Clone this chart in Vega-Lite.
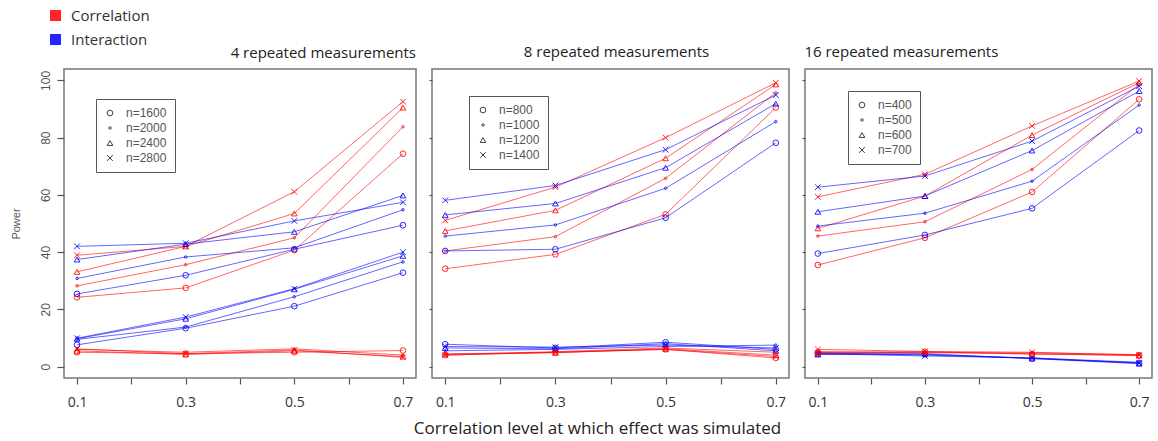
{
"$schema": "https://vega.github.io/schema/vega-lite/v6.json",
"background": "white",
"padding": {"left": 9, "top": 7, "right": 0, "bottom": 0},
"autosize": {"type": "pad"},
"bounds": "flush",
"spacing": 16,
"datasets": {"d": [
{"p":4,"t":"Correlation","s":"a","n":"n=1600","x":0.1,"y":24.2},{"p":4,"t":"Correlation","s":"a","n":"n=1600","x":0.3,"y":27.5},{"p":4,"t":"Correlation","s":"a","n":"n=1600","x":0.5,"y":40.7},{"p":4,"t":"Correlation","s":"a","n":"n=1600","x":0.7,"y":74.4},
{"p":4,"t":"Correlation","s":"a","n":"n=2000","x":0.1,"y":28.2},{"p":4,"t":"Correlation","s":"a","n":"n=2000","x":0.3,"y":35.6},{"p":4,"t":"Correlation","s":"a","n":"n=2000","x":0.5,"y":45.0},{"p":4,"t":"Correlation","s":"a","n":"n=2000","x":0.7,"y":83.8},
{"p":4,"t":"Correlation","s":"a","n":"n=2400","x":0.1,"y":33.1},{"p":4,"t":"Correlation","s":"a","n":"n=2400","x":0.3,"y":42.0},{"p":4,"t":"Correlation","s":"a","n":"n=2400","x":0.5,"y":53.5},{"p":4,"t":"Correlation","s":"a","n":"n=2400","x":0.7,"y":90.5},
{"p":4,"t":"Correlation","s":"a","n":"n=2800","x":0.1,"y":38.9},{"p":4,"t":"Correlation","s":"a","n":"n=2800","x":0.3,"y":42.0},{"p":4,"t":"Correlation","s":"a","n":"n=2800","x":0.5,"y":61.1},{"p":4,"t":"Correlation","s":"a","n":"n=2800","x":0.7,"y":92.6},
{"p":4,"t":"Interaction","s":"a","n":"n=1600","x":0.1,"y":25.4},{"p":4,"t":"Interaction","s":"a","n":"n=1600","x":0.3,"y":31.9},{"p":4,"t":"Interaction","s":"a","n":"n=1600","x":0.5,"y":41.0},{"p":4,"t":"Interaction","s":"a","n":"n=1600","x":0.7,"y":49.4},
{"p":4,"t":"Interaction","s":"a","n":"n=2000","x":0.1,"y":30.8},{"p":4,"t":"Interaction","s":"a","n":"n=2000","x":0.3,"y":38.3},{"p":4,"t":"Interaction","s":"a","n":"n=2000","x":0.5,"y":41.5},{"p":4,"t":"Interaction","s":"a","n":"n=2000","x":0.7,"y":54.8},
{"p":4,"t":"Interaction","s":"a","n":"n=2400","x":0.1,"y":37.4},{"p":4,"t":"Interaction","s":"a","n":"n=2400","x":0.3,"y":42.8},{"p":4,"t":"Interaction","s":"a","n":"n=2400","x":0.5,"y":47.1},{"p":4,"t":"Interaction","s":"a","n":"n=2400","x":0.7,"y":59.8},
{"p":4,"t":"Interaction","s":"a","n":"n=2800","x":0.1,"y":42.0},{"p":4,"t":"Interaction","s":"a","n":"n=2800","x":0.3,"y":43.1},{"p":4,"t":"Interaction","s":"a","n":"n=2800","x":0.5,"y":50.9},{"p":4,"t":"Interaction","s":"a","n":"n=2800","x":0.7,"y":57.4},
{"p":4,"t":"Interaction","s":"b","n":"n=1600","x":0.1,"y":7.6},{"p":4,"t":"Interaction","s":"b","n":"n=1600","x":0.3,"y":13.4},{"p":4,"t":"Interaction","s":"b","n":"n=1600","x":0.5,"y":21.1},{"p":4,"t":"Interaction","s":"b","n":"n=1600","x":0.7,"y":32.8},
{"p":4,"t":"Interaction","s":"b","n":"n=2000","x":0.1,"y":9.5},{"p":4,"t":"Interaction","s":"b","n":"n=2000","x":0.3,"y":13.8},{"p":4,"t":"Interaction","s":"b","n":"n=2000","x":0.5,"y":24.4},{"p":4,"t":"Interaction","s":"b","n":"n=2000","x":0.7,"y":36.6},
{"p":4,"t":"Interaction","s":"b","n":"n=2400","x":0.1,"y":9.7},{"p":4,"t":"Interaction","s":"b","n":"n=2400","x":0.3,"y":16.7},{"p":4,"t":"Interaction","s":"b","n":"n=2400","x":0.5,"y":27.0},{"p":4,"t":"Interaction","s":"b","n":"n=2400","x":0.7,"y":38.7},
{"p":4,"t":"Interaction","s":"b","n":"n=2800","x":0.1,"y":9.9},{"p":4,"t":"Interaction","s":"b","n":"n=2800","x":0.3,"y":17.3},{"p":4,"t":"Interaction","s":"b","n":"n=2800","x":0.5,"y":27.2},{"p":4,"t":"Interaction","s":"b","n":"n=2800","x":0.7,"y":40.0},
{"p":4,"t":"Correlation","s":"b","n":"n=1600","x":0.1,"y":5.0},{"p":4,"t":"Correlation","s":"b","n":"n=1600","x":0.3,"y":4.5},{"p":4,"t":"Correlation","s":"b","n":"n=1600","x":0.5,"y":5.0},{"p":4,"t":"Correlation","s":"b","n":"n=1600","x":0.7,"y":5.6},
{"p":4,"t":"Correlation","s":"b","n":"n=2000","x":0.1,"y":6.0},{"p":4,"t":"Correlation","s":"b","n":"n=2000","x":0.3,"y":5.0},{"p":4,"t":"Correlation","s":"b","n":"n=2000","x":0.5,"y":6.2},{"p":4,"t":"Correlation","s":"b","n":"n=2000","x":0.7,"y":4.0},
{"p":4,"t":"Correlation","s":"b","n":"n=2400","x":0.1,"y":5.5},{"p":4,"t":"Correlation","s":"b","n":"n=2400","x":0.3,"y":4.2},{"p":4,"t":"Correlation","s":"b","n":"n=2400","x":0.5,"y":5.5},{"p":4,"t":"Correlation","s":"b","n":"n=2400","x":0.7,"y":3.5},
{"p":4,"t":"Correlation","s":"b","n":"n=2800","x":0.1,"y":6.2},{"p":4,"t":"Correlation","s":"b","n":"n=2800","x":0.3,"y":4.5},{"p":4,"t":"Correlation","s":"b","n":"n=2800","x":0.5,"y":5.8},{"p":4,"t":"Correlation","s":"b","n":"n=2800","x":0.7,"y":3.2},
{"p":8,"t":"Correlation","s":"a","n":"n=800","x":0.1,"y":34.2},{"p":8,"t":"Correlation","s":"a","n":"n=800","x":0.3,"y":39.2},{"p":8,"t":"Correlation","s":"a","n":"n=800","x":0.5,"y":53.2},{"p":8,"t":"Correlation","s":"a","n":"n=800","x":0.7,"y":90.5},
{"p":8,"t":"Correlation","s":"a","n":"n=1000","x":0.1,"y":40.4},{"p":8,"t":"Correlation","s":"a","n":"n=1000","x":0.3,"y":45.4},{"p":8,"t":"Correlation","s":"a","n":"n=1000","x":0.5,"y":65.8},{"p":8,"t":"Correlation","s":"a","n":"n=1000","x":0.7,"y":95.7},
{"p":8,"t":"Correlation","s":"a","n":"n=1200","x":0.1,"y":47.4},{"p":8,"t":"Correlation","s":"a","n":"n=1200","x":0.3,"y":54.6},{"p":8,"t":"Correlation","s":"a","n":"n=1200","x":0.5,"y":72.8},{"p":8,"t":"Correlation","s":"a","n":"n=1200","x":0.7,"y":98.6},
{"p":8,"t":"Correlation","s":"a","n":"n=1400","x":0.1,"y":51.1},{"p":8,"t":"Correlation","s":"a","n":"n=1400","x":0.3,"y":62.7},{"p":8,"t":"Correlation","s":"a","n":"n=1400","x":0.5,"y":80.0},{"p":8,"t":"Correlation","s":"a","n":"n=1400","x":0.7,"y":99.2},
{"p":8,"t":"Interaction","s":"a","n":"n=800","x":0.1,"y":40.4},{"p":8,"t":"Interaction","s":"a","n":"n=800","x":0.3,"y":41.0},{"p":8,"t":"Interaction","s":"a","n":"n=800","x":0.5,"y":52.0},{"p":8,"t":"Interaction","s":"a","n":"n=800","x":0.7,"y":78.2},
{"p":8,"t":"Interaction","s":"a","n":"n=1000","x":0.1,"y":45.6},{"p":8,"t":"Interaction","s":"a","n":"n=1000","x":0.3,"y":49.5},{"p":8,"t":"Interaction","s":"a","n":"n=1000","x":0.5,"y":62.3},{"p":8,"t":"Interaction","s":"a","n":"n=1000","x":0.7,"y":85.6},
{"p":8,"t":"Interaction","s":"a","n":"n=1200","x":0.1,"y":53.0},{"p":8,"t":"Interaction","s":"a","n":"n=1200","x":0.3,"y":57.0},{"p":8,"t":"Interaction","s":"a","n":"n=1200","x":0.5,"y":69.5},{"p":8,"t":"Interaction","s":"a","n":"n=1200","x":0.7,"y":91.9},
{"p":8,"t":"Interaction","s":"a","n":"n=1400","x":0.1,"y":58.1},{"p":8,"t":"Interaction","s":"a","n":"n=1400","x":0.3,"y":63.3},{"p":8,"t":"Interaction","s":"a","n":"n=1400","x":0.5,"y":75.8},{"p":8,"t":"Interaction","s":"a","n":"n=1400","x":0.7,"y":94.9},
{"p":8,"t":"Interaction","s":"b","n":"n=800","x":0.1,"y":7.8},{"p":8,"t":"Interaction","s":"b","n":"n=800","x":0.3,"y":6.5},{"p":8,"t":"Interaction","s":"b","n":"n=800","x":0.5,"y":8.5},{"p":8,"t":"Interaction","s":"b","n":"n=800","x":0.7,"y":6.0},
{"p":8,"t":"Interaction","s":"b","n":"n=1000","x":0.1,"y":5.5},{"p":8,"t":"Interaction","s":"b","n":"n=1000","x":0.3,"y":6.0},{"p":8,"t":"Interaction","s":"b","n":"n=1000","x":0.5,"y":7.0},{"p":8,"t":"Interaction","s":"b","n":"n=1000","x":0.7,"y":7.5},
{"p":8,"t":"Interaction","s":"b","n":"n=1200","x":0.1,"y":6.5},{"p":8,"t":"Interaction","s":"b","n":"n=1200","x":0.3,"y":6.2},{"p":8,"t":"Interaction","s":"b","n":"n=1200","x":0.5,"y":8.0},{"p":8,"t":"Interaction","s":"b","n":"n=1200","x":0.7,"y":5.5},
{"p":8,"t":"Interaction","s":"b","n":"n=1400","x":0.1,"y":7.0},{"p":8,"t":"Interaction","s":"b","n":"n=1400","x":0.3,"y":6.8},{"p":8,"t":"Interaction","s":"b","n":"n=1400","x":0.5,"y":7.5},{"p":8,"t":"Interaction","s":"b","n":"n=1400","x":0.7,"y":6.5},
{"p":8,"t":"Correlation","s":"b","n":"n=800","x":0.1,"y":4.0},{"p":8,"t":"Correlation","s":"b","n":"n=800","x":0.3,"y":5.0},{"p":8,"t":"Correlation","s":"b","n":"n=800","x":0.5,"y":6.0},{"p":8,"t":"Correlation","s":"b","n":"n=800","x":0.7,"y":3.0},
{"p":8,"t":"Correlation","s":"b","n":"n=1000","x":0.1,"y":4.2},{"p":8,"t":"Correlation","s":"b","n":"n=1000","x":0.3,"y":5.2},{"p":8,"t":"Correlation","s":"b","n":"n=1000","x":0.5,"y":6.5},{"p":8,"t":"Correlation","s":"b","n":"n=1000","x":0.7,"y":5.0},
{"p":8,"t":"Correlation","s":"b","n":"n=1200","x":0.1,"y":4.5},{"p":8,"t":"Correlation","s":"b","n":"n=1200","x":0.3,"y":4.8},{"p":8,"t":"Correlation","s":"b","n":"n=1200","x":0.5,"y":6.2},{"p":8,"t":"Correlation","s":"b","n":"n=1200","x":0.7,"y":4.0},
{"p":8,"t":"Correlation","s":"b","n":"n=1400","x":0.1,"y":4.0},{"p":8,"t":"Correlation","s":"b","n":"n=1400","x":0.3,"y":5.0},{"p":8,"t":"Correlation","s":"b","n":"n=1400","x":0.5,"y":6.0},{"p":8,"t":"Correlation","s":"b","n":"n=1400","x":0.7,"y":3.5},
{"p":16,"t":"Correlation","s":"a","n":"n=400","x":0.1,"y":35.5},{"p":16,"t":"Correlation","s":"a","n":"n=400","x":0.3,"y":45.0},{"p":16,"t":"Correlation","s":"a","n":"n=400","x":0.5,"y":61.0},{"p":16,"t":"Correlation","s":"a","n":"n=400","x":0.7,"y":93.4},
{"p":16,"t":"Correlation","s":"a","n":"n=500","x":0.1,"y":45.6},{"p":16,"t":"Correlation","s":"a","n":"n=500","x":0.3,"y":50.6},{"p":16,"t":"Correlation","s":"a","n":"n=500","x":0.5,"y":68.9},{"p":16,"t":"Correlation","s":"a","n":"n=500","x":0.7,"y":98.6},
{"p":16,"t":"Correlation","s":"a","n":"n=600","x":0.1,"y":48.3},{"p":16,"t":"Correlation","s":"a","n":"n=600","x":0.3,"y":59.6},{"p":16,"t":"Correlation","s":"a","n":"n=600","x":0.5,"y":80.9},{"p":16,"t":"Correlation","s":"a","n":"n=600","x":0.7,"y":99.2},
{"p":16,"t":"Correlation","s":"a","n":"n=700","x":0.1,"y":59.3},{"p":16,"t":"Correlation","s":"a","n":"n=700","x":0.3,"y":67.2},{"p":16,"t":"Correlation","s":"a","n":"n=700","x":0.5,"y":84.1},{"p":16,"t":"Correlation","s":"a","n":"n=700","x":0.7,"y":99.8},
{"p":16,"t":"Interaction","s":"a","n":"n=400","x":0.1,"y":39.5},{"p":16,"t":"Interaction","s":"a","n":"n=400","x":0.3,"y":46.0},{"p":16,"t":"Interaction","s":"a","n":"n=400","x":0.5,"y":55.3},{"p":16,"t":"Interaction","s":"a","n":"n=400","x":0.7,"y":82.5},
{"p":16,"t":"Interaction","s":"a","n":"n=500","x":0.1,"y":49.1},{"p":16,"t":"Interaction","s":"a","n":"n=500","x":0.3,"y":53.6},{"p":16,"t":"Interaction","s":"a","n":"n=500","x":0.5,"y":64.8},{"p":16,"t":"Interaction","s":"a","n":"n=500","x":0.7,"y":91.4},
{"p":16,"t":"Interaction","s":"a","n":"n=600","x":0.1,"y":54.1},{"p":16,"t":"Interaction","s":"a","n":"n=600","x":0.3,"y":59.6},{"p":16,"t":"Interaction","s":"a","n":"n=600","x":0.5,"y":75.5},{"p":16,"t":"Interaction","s":"a","n":"n=600","x":0.7,"y":96.3},
{"p":16,"t":"Interaction","s":"a","n":"n=700","x":0.1,"y":62.7},{"p":16,"t":"Interaction","s":"a","n":"n=700","x":0.3,"y":66.6},{"p":16,"t":"Interaction","s":"a","n":"n=700","x":0.5,"y":78.8},{"p":16,"t":"Interaction","s":"a","n":"n=700","x":0.7,"y":98.0},
{"p":16,"t":"Interaction","s":"b","n":"n=400","x":0.1,"y":4.5},{"p":16,"t":"Interaction","s":"b","n":"n=400","x":0.3,"y":4.3},{"p":16,"t":"Interaction","s":"b","n":"n=400","x":0.5,"y":2.8},{"p":16,"t":"Interaction","s":"b","n":"n=400","x":0.7,"y":1.3},
{"p":16,"t":"Interaction","s":"b","n":"n=500","x":0.1,"y":4.8},{"p":16,"t":"Interaction","s":"b","n":"n=500","x":0.3,"y":4.0},{"p":16,"t":"Interaction","s":"b","n":"n=500","x":0.5,"y":3.0},{"p":16,"t":"Interaction","s":"b","n":"n=500","x":0.7,"y":1.5},
{"p":16,"t":"Interaction","s":"b","n":"n=600","x":0.1,"y":4.2},{"p":16,"t":"Interaction","s":"b","n":"n=600","x":0.3,"y":4.5},{"p":16,"t":"Interaction","s":"b","n":"n=600","x":0.5,"y":2.8},{"p":16,"t":"Interaction","s":"b","n":"n=600","x":0.7,"y":1.0},
{"p":16,"t":"Interaction","s":"b","n":"n=700","x":0.1,"y":4.5},{"p":16,"t":"Interaction","s":"b","n":"n=700","x":0.3,"y":3.7},{"p":16,"t":"Interaction","s":"b","n":"n=700","x":0.5,"y":3.0},{"p":16,"t":"Interaction","s":"b","n":"n=700","x":0.7,"y":1.2},
{"p":16,"t":"Correlation","s":"b","n":"n=400","x":0.1,"y":5.0},{"p":16,"t":"Correlation","s":"b","n":"n=400","x":0.3,"y":5.2},{"p":16,"t":"Correlation","s":"b","n":"n=400","x":0.5,"y":4.3},{"p":16,"t":"Correlation","s":"b","n":"n=400","x":0.7,"y":4.0},
{"p":16,"t":"Correlation","s":"b","n":"n=500","x":0.1,"y":5.2},{"p":16,"t":"Correlation","s":"b","n":"n=500","x":0.3,"y":4.8},{"p":16,"t":"Correlation","s":"b","n":"n=500","x":0.5,"y":4.8},{"p":16,"t":"Correlation","s":"b","n":"n=500","x":0.7,"y":4.2},
{"p":16,"t":"Correlation","s":"b","n":"n=600","x":0.1,"y":4.8},{"p":16,"t":"Correlation","s":"b","n":"n=600","x":0.3,"y":5.0},{"p":16,"t":"Correlation","s":"b","n":"n=600","x":0.5,"y":4.5},{"p":16,"t":"Correlation","s":"b","n":"n=600","x":0.7,"y":3.8},
{"p":16,"t":"Correlation","s":"b","n":"n=700","x":0.1,"y":6.0},{"p":16,"t":"Correlation","s":"b","n":"n=700","x":0.3,"y":5.3},{"p":16,"t":"Correlation","s":"b","n":"n=700","x":0.5,"y":5.0},{"p":16,"t":"Correlation","s":"b","n":"n=700","x":0.7,"y":4.0}
]},
"hconcat": [
{
 "width": 352, "height": 309,
 "data": {"name": "d"},
 "transform": [{"filter": "datum.p == 4"}],
 "title": {"text": "4 repeated measurements", "anchor": "end", "offset": 2, "dy": 55},
 "layer": [
  {"mark": {"type": "line", "strokeWidth": 1, "opacity": 0.6},
   "encoding": {
    "x": {"field": "x", "type": "quantitative", "scale": {"domain": [0.076, 0.724], "nice": false, "zero": false},
      "axis": {"values": [0.1,0.2,0.3,0.4,0.5,0.6,0.7], "format": ".1f", "labelExpr": "(datum.value==0.2||datum.value==0.4||datum.value==0.6) ? '' : datum.label", "title": null}},
    "y": {"field": "y", "type": "quantitative", "scale": {"domain": [-4, 104], "nice": false, "zero": false},
      "axis": {"values": [0,20,40,60,80,100], "title": "Power", "labelAngle": -90, "labelAlign": "center", "labelBaseline": "bottom", "labelPadding": 5, "labelFontSize": 12, "labelColor": "#555", "tickSize": 7, "titleFontSize": 11, "titleFontWeight": "normal", "titleColor": "#555", "titlePadding": 18}},
    "color": {"field": "t", "type": "nominal", "scale": {"domain": ["Correlation", "Interaction"], "range": ["#ff0000", "#0000ff"]},
      "legend": {"title": null, "orient": "none", "legendX": -16, "legendY": -61, "symbolType": "square", "symbolSize": 16, "symbolStrokeWidth": 7, "symbolOpacity": 1, "labelFontSize": 15, "labelFont": "Open Sans", "labelColor": "#333", "labelOffset": 8, "rowPadding": -12}},
    "detail": [{"field": "s"}, {"field": "n"}]
   }},
  {"mark": {"type": "point", "filled": false, "size": 32, "strokeWidth": 1, "opacity": 0.85},
   "encoding": {
    "x": {"field": "x", "type": "quantitative"},
    "y": {"field": "y", "type": "quantitative"},
    "color": {"field": "t", "type": "nominal"},
    "shape": {"field": "n", "type": "nominal", "scale": {"domain": ["n=1600","n=2000","n=2400","n=2800"], "range": ["circle", "M-0.45,0a0.45,0.45 0 1,0 0.9,0a0.45,0.45 0 1,0 -0.9,0", "triangle-up", "M-1,-1L1,1M-1,1L1,-1"]},
      "legend": {"title": null, "orient": "none", "legendX": 32, "legendY": 30, "strokeColor": "#555", "padding": 8, "labelFontSize": 12, "labelColor": "#555", "labelOffset": 10, "rowPadding": 3, "symbolStrokeColor": "#222", "symbolSize": 32, "symbolStrokeWidth": 1}}
   }}
 ]
},
{
 "width": 357, "height": 309,
 "data": {"name": "d"},
 "transform": [{"filter": "datum.p == 8"}],
 "title": {"text": "8 repeated measurements", "anchor": "middle", "offset": 9, "dx": 6},
 "layer": [
  {"mark": {"type": "line", "strokeWidth": 1, "opacity": 0.6},
   "encoding": {
    "x": {"field": "x", "type": "quantitative", "scale": {"domain": [0.076, 0.724], "nice": false, "zero": false},
      "axis": {"values": [0.1,0.2,0.3,0.4,0.5,0.6,0.7], "format": ".1f", "labelExpr": "(datum.value==0.2||datum.value==0.4||datum.value==0.6) ? '' : datum.label", "title": "Correlation level at which effect was simulated", "titleX": 165, "titleFontSize": 17, "titleFontWeight": "normal", "titleFont": "Open Sans", "titleColor": "#222", "titlePadding": 11}},
    "y": {"field": "y", "type": "quantitative", "scale": {"domain": [-4, 104], "nice": false, "zero": false},
      "axis": {"values": [0,20,40,60,80,100], "title": null, "labels": false, "tickSize": 3}},
    "color": {"field": "t", "type": "nominal", "scale": {"domain": ["Correlation", "Interaction"], "range": ["#ff0000", "#0000ff"]}, "legend": null},
    "detail": [{"field": "s"}, {"field": "n"}]
   }},
  {"mark": {"type": "point", "filled": false, "size": 32, "strokeWidth": 1, "opacity": 0.85},
   "encoding": {
    "x": {"field": "x", "type": "quantitative"},
    "y": {"field": "y", "type": "quantitative"},
    "color": {"field": "t", "type": "nominal", "legend": null},
    "shape": {"field": "n", "type": "nominal", "scale": {"domain": ["n=800","n=1000","n=1200","n=1400"], "range": ["circle", "M-0.45,0a0.45,0.45 0 1,0 0.9,0a0.45,0.45 0 1,0 -0.9,0", "triangle-up", "M-1,-1L1,1M-1,1L1,-1"]},
      "legend": {"title": null, "orient": "none", "legendX": 37, "legendY": 27, "strokeColor": "#555", "padding": 8, "labelFontSize": 12, "labelColor": "#555", "labelOffset": 10, "rowPadding": 3, "symbolStrokeColor": "#222", "symbolSize": 32, "symbolStrokeWidth": 1}}
   }}
 ]
},
{
 "width": 347, "height": 309,
 "data": {"name": "d"},
 "transform": [{"filter": "datum.p == 16"}],
 "title": {"text": "16 repeated measurements", "anchor": "start", "offset": 9, "dx": 3},
 "layer": [
  {"mark": {"type": "line", "strokeWidth": 1, "opacity": 0.6},
   "encoding": {
    "x": {"field": "x", "type": "quantitative", "scale": {"domain": [0.076, 0.724], "nice": false, "zero": false},
      "axis": {"values": [0.1,0.2,0.3,0.4,0.5,0.6,0.7], "format": ".1f", "labelExpr": "(datum.value==0.2||datum.value==0.4||datum.value==0.6) ? '' : datum.label", "title": null}},
    "y": {"field": "y", "type": "quantitative", "scale": {"domain": [-4, 104], "nice": false, "zero": false},
      "axis": {"values": [0,20,40,60,80,100], "title": null, "labels": false, "tickSize": 3}},
    "color": {"field": "t", "type": "nominal", "scale": {"domain": ["Correlation", "Interaction"], "range": ["#ff0000", "#0000ff"]}, "legend": null},
    "detail": [{"field": "s"}, {"field": "n"}]
   }},
  {"mark": {"type": "point", "filled": false, "size": 32, "strokeWidth": 1, "opacity": 0.85},
   "encoding": {
    "x": {"field": "x", "type": "quantitative"},
    "y": {"field": "y", "type": "quantitative"},
    "color": {"field": "t", "type": "nominal", "legend": null},
    "shape": {"field": "n", "type": "nominal", "scale": {"domain": ["n=400","n=500","n=600","n=700"], "range": ["circle", "M-0.45,0a0.45,0.45 0 1,0 0.9,0a0.45,0.45 0 1,0 -0.9,0", "triangle-up", "M-1,-1L1,1M-1,1L1,-1"]},
      "legend": {"title": null, "orient": "none", "legendX": 43, "legendY": 22, "strokeColor": "#555", "padding": 8, "labelFontSize": 12, "labelColor": "#555", "labelOffset": 10, "rowPadding": 3, "symbolStrokeColor": "#222", "symbolSize": 32, "symbolStrokeWidth": 1}}
   }}
 ]
}
],
"resolve": {"scale": {"shape": "independent", "color": "independent", "x": "independent", "y": "independent"}, "legend": {"shape": "independent", "color": "independent"}},
"config": {
 "font": "Liberation Sans",
 "view": {"stroke": "#777", "strokeWidth": 1.5},
 "axis": {"grid": false, "domain": false, "tickColor": "#555", "tickWidth": 1.2, "labelColor": "#333"},
 "axisX": {"tickSize": 6, "labelFontSize": 14, "labelFont": "Open Sans", "labelPadding": 11},
 "title": {"font": "Open Sans", "fontSize": 15, "fontWeight": "normal", "color": "#222"}
}
}
